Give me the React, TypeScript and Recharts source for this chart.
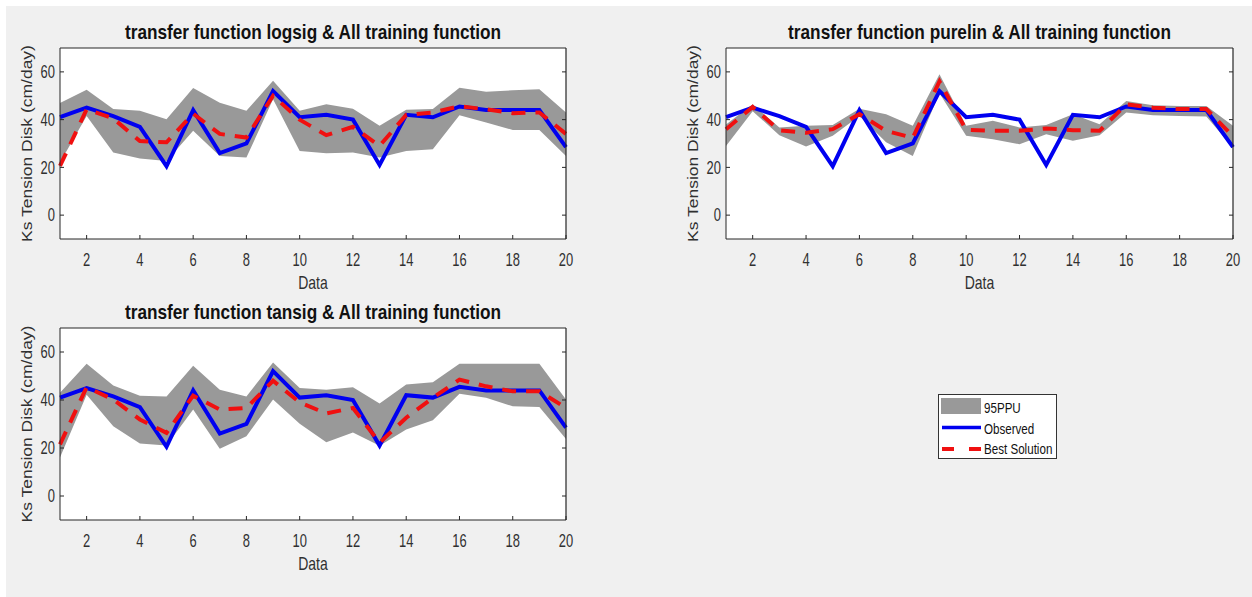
import React from 'react';
import { ComposedChart, Area, Line, XAxis, YAxis, CartesianGrid, ReferenceLine } from 'recharts';

const xIndex = [1, 2, 3, 4, 5, 6, 7, 8, 9, 10, 11, 12, 13, 14, 15, 16, 17, 18, 19, 20];
const xTicks = [2, 4, 6, 8, 10, 12, 14, 16, 18, 20];
const yTicks = [0, 20, 40, 60];
const xDomain = [1, 20];
const yDomain = [-10, 70];

const observed = [41, 45, 41.5, 37, 20.5, 44, 26, 30, 52, 41, 42, 40, 21, 42, 41, 45.5, 44, 44, 44, 28.5];

const logsigBest = [20.6, 44.3, 40.5, 31, 30.5, 42.5, 34, 32.5, 50, 40, 33.5, 37, 29, 42, 43, 45.6, 44.3, 42.7, 43, 34];
const logsigUpper = [47, 52.5, 44.4, 43.7, 40.2, 53.2, 47.1, 43.7, 56.3, 43.7, 46.4, 44.6, 37.4, 44.1, 44.4, 53.4, 51.7, 52.3, 52.7, 43];
const logsigLower = [22, 41.5, 26.2, 23.7, 22.7, 35.3, 24.8, 24.1, 48.5, 26.9, 25.9, 26.2, 24.1, 26.9, 27.6, 41.8, 38.8, 35.7, 35.7, 24.8];

const purelinBest = [36, 45.3, 35.5, 34.5, 36, 42.3, 35.3, 32.4, 56, 35.7, 35.3, 35.3, 36.3, 35.6, 35.3, 46.4, 45, 44.4, 44.4, 33];
const purelinUpper = [38, 46.4, 36.7, 37.4, 37.7, 44.6, 42.3, 37.4, 59, 37.4, 39.5, 36.7, 37.7, 42.3, 38.1, 47.8, 46, 45.7, 45.7, 37.4];
const purelinLower = [29, 43.5, 33.5, 28.7, 33.2, 41.5, 30.5, 24.8, 51, 33.2, 31.8, 29.7, 33.9, 31.1, 33.5, 43, 41.8, 41.5, 41.3, 28.3];

const tansigBest = [21.5, 45.3, 40.2, 31.9, 26.3, 41.8, 36, 36.7, 48, 39, 34.4, 36.7, 22.2, 32.6, 40.9, 48.5, 45.7, 43.6, 43.6, 36.7];
const tansigUpper = [43, 55.1, 46, 41.8, 41.5, 54.3, 44.3, 41.5, 55.6, 45, 44.3, 45.3, 38.5, 46.5, 47.4, 55.1, 55.1, 55.1, 55.1, 40.2];
const tansigLower = [16, 42.2, 29.1, 21.9, 21, 36, 19.7, 24.9, 40.2, 30.1, 22.4, 26.5, 20.9, 27.7, 31.6, 42.6, 40.9, 37.4, 37.1, 23.8];

const titles = [
  'transfer function logsig & All training function',
  'transfer function purelin & All training function',
  'transfer function tansig & All training function',
];
const xLabel = 'Data';
const yLabel = 'Ks Tension Disk (cm/day)';
const legendNames = ['95PPU', 'Observed', 'Best Solution'];

const FONT = "'Liberation Sans', Arial, Helvetica, sans-serif";
const AXIS = '#262626';
const TXT = '#303030';
const BAND = '#999999';
const BLUE = '#0000f0';
const RED = '#f01010';

function buildRows(best: number[], lower: number[], upper: number[]) {
  return xIndex.map((x, i) => ({ x, observed: observed[i], best: best[i], band: [lower[i], upper[i]] }));
}

const XTick = (props: any) => {
  const { x, y, payload } = props;
  return (
    <g transform={`translate(${x},${y})`}>
      <text x={0} y={27} textAnchor="middle" fontSize={17.5} fill={TXT} fontFamily={FONT} transform="scale(0.74,1)">
        {payload.value}
      </text>
    </g>
  );
};

const YTick = (props: any) => {
  const { x, y, payload } = props;
  return (
    <g transform={`translate(${x},${y})`}>
      <text x={0} y={6.2} textAnchor="end" fontSize={17.5} fill={TXT} fontFamily={FONT} transform="scale(0.74,1)">
        {payload.value}
      </text>
    </g>
  );
};

const makeTitle = (title: string) => (props: any) => {
  const vb = props.viewBox || {};
  const cx = vb.x + vb.width / 2;
  const by = vb.y + vb.height - 9;
  return (
    <g transform={`translate(${cx},${by})`}>
      <text x={0} y={0} textAnchor="middle" fontSize={20.5} fontWeight="bold" fill="#111" fontFamily={FONT} transform="scale(0.84,1)">
        {title}
      </text>
    </g>
  );
};

const DataLabel = (props: any) => {
  const vb = props.viewBox || {};
  const cx = vb.x + vb.width / 2;
  const by = vb.y + 50;
  return (
    <g transform={`translate(${cx},${by})`}>
      <text x={0} y={0} textAnchor="middle" fontSize={17.5} fill={TXT} fontFamily={FONT} transform="scale(0.8,1)">
        {xLabel}
      </text>
    </g>
  );
};

const YLabelContent = (props: any) => {
  const vb = props.viewBox || {};
  const bx = vb.x + vb.width - 28;
  const cy = vb.y + vb.height / 2;
  return (
    <g transform={`translate(${bx},${cy}) rotate(-90) scale(1,0.8)`}>
      <text x={0} y={0} textAnchor="middle" fontSize={17.5} fill={TXT} fontFamily={FONT}>
        {yLabel}
      </text>
    </g>
  );
};

type PanelProps = {
  title: string;
  best: number[];
  lower: number[];
  upper: number[];
  left: number;
  top: number;
  width: number;
  height: number;
  margin: { top: number; right: number; bottom: number; left: number };
};

function Panel({ title, best, lower, upper, left, top, width, height, margin }: PanelProps) {
  const data = buildRows(best, lower, upper);
  return (
    <div style={{ position: 'absolute', left, top, width, height }}>
      <ComposedChart width={width} height={height} data={data} margin={margin}>
        <CartesianGrid xAxisId="b" yAxisId="l" horizontal={false} vertical={false} fill="#ffffff" stroke="none" />
        <Area
          xAxisId="b"
          yAxisId="l"
          dataKey="band"
          type="linear"
          stroke="none"
          fill={BAND}
          fillOpacity={1}
          isAnimationActive={false}
          activeDot={false}
        />
        <Line
          xAxisId="b"
          yAxisId="l"
          dataKey="observed"
          type="linear"
          stroke={BLUE}
          strokeWidth={4}
          dot={false}
          activeDot={false}
          isAnimationActive={false}
        />
        <Line
          xAxisId="b"
          yAxisId="l"
          dataKey="best"
          type="linear"
          stroke={RED}
          strokeWidth={4}
          strokeDasharray="14 10"
          dot={false}
          activeDot={false}
          isAnimationActive={false}
        />
        <ReferenceLine xAxisId="b" yAxisId="l" x={xDomain[1]} stroke={AXIS} strokeWidth={1.2} ifOverflow="visible" />
        {yTicks.map((v) => (
          <ReferenceLine
            key={v}
            xAxisId="b"
            yAxisId="l"
            segment={[
              { x: xDomain[1] - 0.15, y: v },
              { x: xDomain[1], y: v },
            ]}
            stroke={AXIS}
            strokeWidth={1}
            ifOverflow="visible"
          />
        ))}
        <XAxis
          xAxisId="b"
          dataKey="x"
          type="number"
          domain={xDomain}
          ticks={xTicks}
          interval={0}
          orientation="bottom"
          height={30}
          tickSize={-4}
          tickMargin={4}
          stroke={AXIS}
          tick={XTick}
          label={{ content: DataLabel }}
        />
        <XAxis
          xAxisId="t"
          dataKey="x"
          type="number"
          domain={xDomain}
          ticks={xTicks}
          interval={0}
          orientation="top"
          height={1}
          tickSize={-4}
          tick={false}
          stroke={AXIS}
          label={{ content: makeTitle(title) }}
        />
        <YAxis
          yAxisId="l"
          type="number"
          domain={yDomain}
          ticks={yTicks}
          interval={0}
          width={60}
          tickSize={-4}
          tickMargin={9}
          stroke={AXIS}
          tick={YTick}
          label={{ content: YLabelContent }}
        />
      </ComposedChart>
    </div>
  );
}

function LegendBox() {
  const t = { fontSize: 14.5, fill: '#111', fontFamily: FONT } as const;
  return (
    <svg width={120} height={66} style={{ position: 'absolute', left: 938, top: 394 }}>
      <rect x={0.5} y={0.5} width={118} height={64} fill="#ffffff" stroke="#333333" strokeWidth={1} />
      <rect x={3} y={4} width={40} height={16} fill={BAND} />
      <g transform="translate(46,18.5)">
        <text {...t} transform="scale(0.8,1)">{legendNames[0]}</text>
      </g>
      <line x1={4} x2={43} y1={33.5} y2={33.5} stroke={BLUE} strokeWidth={3.5} />
      <g transform="translate(46,39.5)">
        <text {...t} transform="scale(0.8,1)">{legendNames[1]}</text>
      </g>
      <line x1={4} x2={43} y1={55} y2={55} stroke={RED} strokeWidth={4} strokeDasharray="12 15" />
      <g transform="translate(46,60)">
        <text {...t} transform="scale(0.8,1)">{legendNames[2]}</text>
      </g>
    </svg>
  );
}

export default function App() {
  return (
    <div style={{ position: 'absolute', left: 0, top: 0, width: 1252, height: 597, background: '#ffffff', overflow: 'hidden' }}>
      <div style={{ position: 'absolute', left: 6, top: 6, width: 1246, height: 591, background: '#f0f0f0' }} />
      <Panel
        title={titles[0]}
        best={logsigBest}
        lower={logsigLower}
        upper={logsigUpper}
        left={0}
        top={0}
        width={600}
        height={300}
        margin={{ top: 47, right: 34, bottom: 31, left: 0 }}
      />
      <Panel
        title={titles[1]}
        best={purelinBest}
        lower={purelinLower}
        upper={purelinUpper}
        left={666}
        top={0}
        width={586}
        height={300}
        margin={{ top: 47, right: 19, bottom: 31, left: 0 }}
      />
      <Panel
        title={titles[2]}
        best={tansigBest}
        lower={tansigLower}
        upper={tansigUpper}
        left={0}
        top={280}
        width={600}
        height={300}
        margin={{ top: 47, right: 34, bottom: 30, left: 0 }}
      />
      <LegendBox />
    </div>
  );
}
